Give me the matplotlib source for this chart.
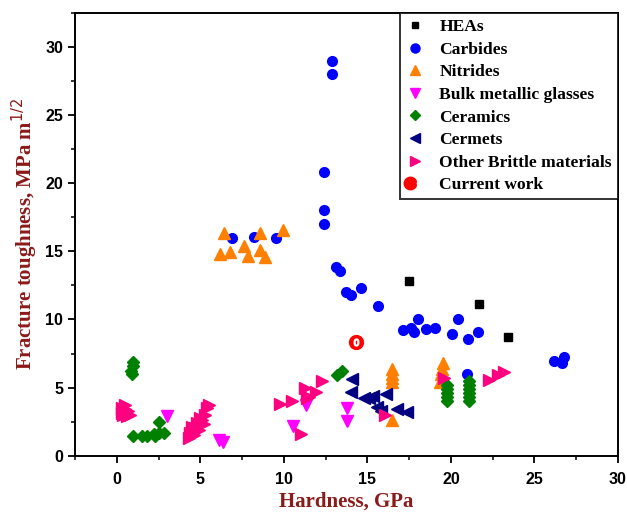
import matplotlib
matplotlib.use('Agg')
import matplotlib.pyplot as plt
from matplotlib.lines import Line2D
from matplotlib.legend_handler import HandlerTuple
from matplotlib.ticker import MultipleLocator

# ---- data (hardness GPa, toughness MPa m^1/2) ----
hea_x = [17.5, 21.7, 23.4]
hea_y = [12.8, 11.1, 8.7]

carb_x = [12.86, 12.86, 12.42, 12.42, 12.42, 13.1, 13.36, 13.7, 14.04, 14.6, 15.66,
          17.16, 17.6, 17.8, 18.03, 18.5, 19.05, 20.05, 20.4, 21.03, 21.6,
          26.15, 26.63, 26.76, 20.94, 6.9, 8.2, 9.54]
carb_y = [29.0, 28.0, 20.8, 18.0, 17.0, 13.86, 13.54, 12.02, 11.83, 12.32, 11.0,
          9.22, 9.41, 9.05, 10.0, 9.29, 9.41, 8.9, 10.0, 8.6, 9.05,
          6.92, 6.77, 7.26, 5.97, 16.0, 16.06, 16.0]

nit_x = [6.4, 8.6, 9.96, 6.16, 6.76, 7.6, 7.84, 8.6, 8.9,
         16.46, 16.46, 16.46, 16.46, 16.46,
         19.5, 19.45, 19.4, 19.5, 19.35]
nit_y = [16.35, 16.35, 16.55, 14.84, 14.96, 15.37, 14.64, 15.13, 14.59,
         6.4, 6.0, 5.7, 5.4, 2.6,
         6.8, 6.4, 6.0, 5.7, 5.4]

bmg_x = [3.0, 6.1, 6.36, 11.3, 10.56, 13.76, 13.76]
bmg_y = [2.91, 1.15, 1.03, 3.72, 2.18, 3.47, 2.54]

cer_x = [0.95, 0.95, 0.85, 0.9, 1.0, 1.5, 1.8, 2.3, 2.5, 2.8, 2.5, 2.2,
         13.2, 13.5,
         19.75, 19.75, 19.75, 19.75, 19.75,
         21.1, 21.1, 21.1, 21.1, 21.1, 21.1]
cer_y = [6.9, 6.6, 6.2, 6.0, 1.45, 1.45, 1.45, 1.45, 1.7, 1.7, 2.45, 1.6,
         5.9, 6.2,
         5.2, 4.9, 4.6, 4.3, 4.0,
         5.5, 5.2, 4.9, 4.6, 4.3, 4.0]

cermet_x = [14.1, 14.0, 14.8, 15.1, 15.35, 15.6, 15.8, 16.1, 16.75, 17.4]
cermet_y = [5.65, 4.65, 4.25, 4.2, 4.35, 3.55, 3.3, 4.55, 3.45, 3.2]

other_x = [0.3, 0.5, 0.7, 0.4, 0.6, 0.3, 0.8, 0.5,
           4.3, 4.4, 4.5, 4.6, 4.8, 4.9, 5.0, 5.2, 5.3, 5.4, 5.5, 4.7, 5.1,
           9.76, 10.46, 11.25, 11.5, 11.9, 12.3, 11.0, 11.4,
           16.04, 19.6, 22.3, 22.8, 23.16]
other_y = [3.5, 3.7, 3.3, 3.0, 2.9, 3.1, 3.0, 3.4,
           1.3, 1.7, 2.1, 1.5, 2.4, 1.9, 2.8, 2.3, 3.0, 3.5, 3.7, 2.0, 2.6,
           3.79, 4.03, 4.99, 4.33, 4.69, 5.5, 1.57, 4.2,
           2.98, 5.67, 5.55, 5.9, 6.16]

cur_x = [14.34]
cur_y = [8.36]

labels = ['HEAs', 'Carbides', 'Nitrides', 'Bulk metallic glasses', 'Ceramics',
          'Cermets', 'Other Brittle materials', 'Current work']

label_color = '#8B1A1A'

fig = plt.figure(figsize=(6.27, 5.13), dpi=100)
ax = fig.add_axes([0.1196, 0.1117, 0.866, 0.863])

ms = 7
ax.plot(hea_x, hea_y, marker='s', color='black', ms=6, ls='none')
ax.plot(carb_x, carb_y, marker='o', color='#0000FF', ms=ms, ls='none')
ax.plot(nit_x, nit_y, marker='^', color='#FF8000', ms=ms + 1, ls='none')
ax.plot(bmg_x, bmg_y, marker='v', color='#FF00FF', ms=ms + 1, ls='none')
ax.plot(cer_x, cer_y, marker='D', color='#008000', ms=ms - 0.5, ls='none')
ax.plot(cermet_x, cermet_y, marker='<', color='#000080', ms=ms + 1, ls='none')
ax.plot(other_x, other_y, marker='>', color='#FF0080', ms=ms + 1, ls='none')
ax.plot(cur_x, cur_y, marker='o', color='#FF0000', ms=10, ls='none')
ax.plot(cur_x, cur_y, marker='$0$', color='white', ms=5, ls='none')

ax.set_xlim(-2.5, 30)
ax.set_ylim(0, 32.5)
ax.xaxis.set_major_locator(MultipleLocator(5))
ax.xaxis.set_minor_locator(MultipleLocator(2.5))
ax.yaxis.set_major_locator(MultipleLocator(5))
ax.yaxis.set_minor_locator(MultipleLocator(2.5))
ax.tick_params(which='major', direction='out', length=5, width=1.3,
               top=False, right=False, labelsize=11.5)
ax.tick_params(axis='x', which='major', pad=7)
ax.tick_params(which='minor', direction='out', length=3, width=1.1,
               top=False, right=False)
for lab in ax.get_xticklabels() + ax.get_yticklabels():
    lab.set_fontweight('bold')
    lab.set_fontfamily('Liberation Sans')
for sp in ax.spines.values():
    sp.set_linewidth(1.4)

ax.set_xlabel('Hardness, GPa', fontsize=15, fontweight='bold', color=label_color,
              family='Liberation Serif', labelpad=3)
ax.set_ylabel(r'Fracture toughness, MPa m$^{1/2}$', fontsize=15,
              fontweight='bold', color=label_color, family='Liberation Serif', labelpad=4)

handles = [
    Line2D([], [], marker='s', color='black', ls='none', ms=5),
    Line2D([], [], marker='o', color='#0000FF', ls='none', ms=6.5),
    Line2D([], [], marker='^', color='#FF8000', ls='none', ms=6.5),
    Line2D([], [], marker='v', color='#FF00FF', ls='none', ms=6.5),
    Line2D([], [], marker='D', color='#008000', ls='none', ms=5.5),
    Line2D([], [], marker='<', color='#000080', ls='none', ms=6.5),
    Line2D([], [], marker='>', color='#FF0080', ls='none', ms=6.5),
    (Line2D([], [], marker='o', color='#FF0000', ls='none', ms=9),
     Line2D([], [], marker='$0$', color='white', ls='none', ms=4.5)),
]
leg = ax.legend(handles, labels, loc='upper right', frameon=True, fancybox=False,
                edgecolor='black', borderaxespad=0, handlelength=1.0,
                handletextpad=0.9, labelspacing=0.36, borderpad=0.35,
                handler_map={tuple: HandlerTuple(ndivide=None, pad=0)},
                prop={'family': 'Liberation Serif', 'weight': 'bold', 'size': 12.6})
leg.get_frame().set_linewidth(1.4)

fig.savefig('out.png', dpi=100)
